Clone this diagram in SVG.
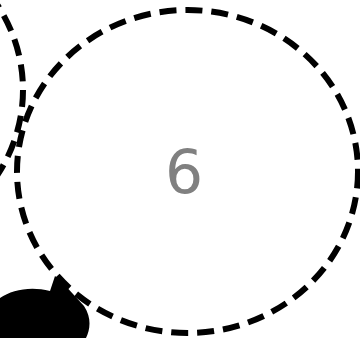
<svg xmlns="http://www.w3.org/2000/svg" width="360" height="338" viewBox="0 0 360 338">
<style>
.c{fill:none;stroke:#000;stroke-width:6;stroke-dasharray:17 9}
.t{font-family:"DejaVu Sans",sans-serif;font-size:60px;fill:#808080;text-anchor:middle}
</style>
<rect width="360" height="338" fill="#fff"/>
<g id="node-left">
<ellipse class="c" cx="-147" cy="90" rx="170" ry="161"/>
</g>
<g id="node-6">
<ellipse class="c" cx="187.5" cy="171.5" rx="170.5" ry="161.5"/>
<text class="t" x="184" y="193">6</text>
</g>
<g id="blob">
<path d="M0,298 C12,290 30,286 50,291 L55,276 L62,282 L84,306 C92,318 90,330 86,338 L0,338 Z" fill="#000"/>
</g>
</svg>
